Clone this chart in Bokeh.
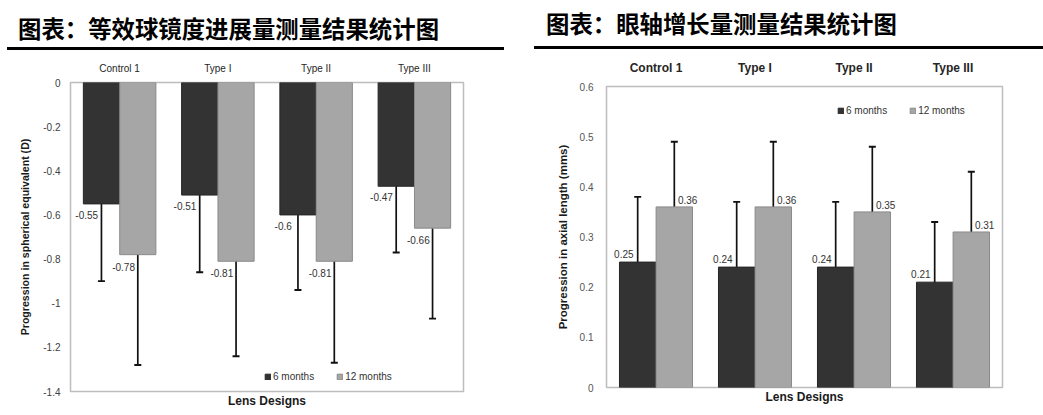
from bokeh.plotting import figure
from bokeh.models import (FactorRange, Range1d, ColumnDataSource, Whisker, TeeHead, FixedTicker,
                          Title, Legend, LegendItem, Div)
from bokeh.transform import dodge
from bokeh.layouts import row, column
from bokeh.embed import file_html
from bokeh.resources import INLINE
from bokeh.core.properties import value

# ---------------- data ----------------
categories = ["Control 1", "Type I", "Type II", "Type III"]
series_names = ["6 months", "12 months"]

# spherical equivalent progression (D)
se_6m = [-0.55, -0.51, -0.60, -0.47]
se_6m_err = [0.35, 0.35, 0.34, 0.30]
se_12m = [-0.78, -0.81, -0.81, -0.66]
se_12m_err = [0.50, 0.43, 0.46, 0.41]
se_ticks = [0, -0.2, -0.4, -0.6, -0.8, -1.0, -1.2, -1.4]
se_tick_labels = ["0", "-0.2", "-0.4", "-0.6", "-0.8", "-1", "-1.2", "-1.4"]

# axial length progression (mm)
al_6m = [0.25, 0.24, 0.24, 0.21]
al_6m_err = [0.13, 0.13, 0.13, 0.12]
al_12m = [0.36, 0.36, 0.35, 0.31]
al_12m_err = [0.13, 0.13, 0.13, 0.12]
al_ticks = [0, 0.1, 0.2, 0.3, 0.4, 0.5, 0.6]
al_tick_labels = ["0", "0.1", "0.2", "0.3", "0.4", "0.5", "0.6"]

left_title = "图表：等效球镜度进展量测量结果统计图"
right_title = "图表：眼轴增长量测量结果统计图"
left_ylabel = "Progression in spherical equivalent (D)"
right_ylabel = "Progression in axial length (mms)"
xlabel = "Lens Designs"

FONT = "Liberation Sans"
DARK = "#333333"
LIGHT = "#a6a6a6"
OFF = 0.185
BW = 0.368


def fmt(v):
    return f"{v:g}"


def make_chart(v6, e6, v12, e12, ticks, tick_labels, yr, ylabel, width, height,
               bl, br, bt, bb, cat_size, cat_style, cat_standoff, tick_color, tick_standoff,
               ylabel_size, ylabel_standoff, lab6, lab12, legend_loc):
    src = ColumnDataSource(dict(
        cat=categories,
        v6=v6, lo6=[a - b for a, b in zip(v6, e6)], hi6=[a + b for a, b in zip(v6, e6)],
        v12=v12, lo12=[a - b for a, b in zip(v12, e12)], hi12=[a + b for a, b in zip(v12, e12)],
        t6=[fmt(v) for v in v6], t12=[fmt(v) for v in v12],
    ))
    p = figure(x_range=FactorRange(*categories), y_range=Range1d(*yr),
               width=width, height=height, output_backend="svg", toolbar_location=None,
               x_axis_location="above", min_border_left=bl, min_border_right=br,
               min_border_top=bt, min_border_bottom=bb)
    p.xgrid.grid_line_color = None
    p.ygrid.grid_line_color = None
    p.outline_line_color = "#bdbdbd"
    p.outline_line_width = 1.5
    p.background_fill_color = "white"
    p.border_fill_color = "white"

    r6 = p.vbar(x=dodge("cat", -OFF, range=p.x_range), top="v6", bottom=0, width=BW,
                source=src, fill_color=DARK, line_color="#262626", line_width=1)
    r12 = p.vbar(x=dodge("cat", OFF, range=p.x_range), top="v12", bottom=0, width=BW,
                 source=src, fill_color=LIGHT, line_color="#8a8a8a", line_width=1)

    for off, lo, hi in ((-OFF, "lo6", "hi6"), (OFF, "lo12", "hi12")):
        w = Whisker(source=src, base=dodge("cat", off, range=p.x_range), upper=hi, lower=lo,
                    dimension="height", line_color="#111111", line_width=1.7,
                    upper_head=TeeHead(size=7, line_width=1.9, line_color="#111111"),
                    lower_head=TeeHead(size=7, line_width=1.9, line_color="#111111"))
        p.add_layout(w)

    p.text(x=dodge("cat", lab6[0], range=p.x_range), y="v6", text="t6", source=src,
           y_offset=lab6[1], text_align="center", text_baseline="middle",
           text_font=value(FONT), text_font_size="10px", text_color="#333333")
    p.text(x=dodge("cat", lab12[0], range=p.x_range), y="v12", text="t12", source=src,
           y_offset=lab12[1], text_align="center", text_baseline="middle",
           text_font=value(FONT), text_font_size="10px", text_color="#333333")

    xa = p.xaxis[0]
    xa.axis_line_color = None
    xa.major_tick_line_color = None
    xa.minor_tick_line_color = None
    xa.major_tick_out = 0
    xa.major_tick_in = 0
    xa.major_label_standoff = cat_standoff
    xa.major_label_text_font = FONT
    xa.major_label_text_font_size = cat_size
    xa.major_label_text_font_style = cat_style
    xa.major_label_text_color = "#262626"

    ya = p.yaxis[0]
    ya.ticker = FixedTicker(ticks=ticks)
    ya.major_label_overrides = {t: l for t, l in zip(ticks, tick_labels)}
    ya.axis_line_color = None
    ya.major_tick_line_color = None
    ya.minor_tick_line_color = None
    ya.major_tick_out = 0
    ya.major_tick_in = 0
    ya.major_label_standoff = tick_standoff
    ya.major_label_text_font = FONT
    ya.major_label_text_font_size = "10px"
    ya.major_label_text_color = tick_color
    ya.axis_label = ylabel
    ya.axis_label_text_font = FONT
    ya.axis_label_text_font_size = ylabel_size
    ya.axis_label_text_font_style = "bold"
    ya.axis_label_text_color = "#1a1a1a"
    ya.axis_label_standoff = ylabel_standoff

    p.add_layout(Title(text=xlabel, align="center", text_font=FONT, text_font_size="12px",
                       text_font_style="bold", text_color="#1a1a1a", standoff=0, offset=0), "below")

    legend = Legend(items=[LegendItem(label=series_names[0], renderers=[r6]),
                           LegendItem(label=series_names[1], renderers=[r12])],
                    location=legend_loc, orientation="horizontal",
                    glyph_width=7, glyph_height=7, label_standoff=2, spacing=22,
                    padding=0, margin=0, border_line_color=None, background_fill_alpha=0,
                    label_text_font=FONT, label_text_font_size="10px", label_height=10,
                    label_text_color="#333333")
    p.add_layout(legend)
    return p


def title_div(text, width, height, tx, ty, ux, uy, uw):
    html = (
        f'<div style="position:relative;width:{width}px;height:{height}px;">'
        f'<div style="position:absolute;left:{tx}px;top:{ty}px;white-space:nowrap;'
        f"font-family:'Noto Sans CJK SC';font-weight:bold;font-size:23.4px;line-height:28px;color:#000;\">{text}</div>"
        f'<div style="position:absolute;left:{ux}px;top:{uy}px;width:{uw}px;height:3px;background:#000;"></div>'
        f'</div>'
    )
    return Div(text=html, width=width, height=height, margin=(0, 0, 0, 0))


left = make_chart(se_6m, se_6m_err, se_12m, se_12m_err, se_ticks, se_tick_labels, (-1.4, 0),
                  left_ylabel, 528, 363, 70, 65, 30, 24, "10px", "normal", 9, "#404040", 10,
                  "10.6px", 9, (-0.335, 11), (0.04, 12), (194, 9))
right = make_chart(al_6m, al_6m_err, al_12m, al_12m_err, al_ticks, al_tick_labels, (0, 0.6),
                   right_ylabel, 515, 363, 78, 41, 34, 28, "12px", "bold", 12, "#555555", 13,
                   "11.5px", 8, (-0.325, -8), (0.32, -7), (231, 271))

ldiv = title_div(left_title, 528, 52, 18, 14, 7, 47, 497)
rdiv = title_div(right_title, 515, 52, 18, 9, 6, 46, 509)

layout = row(column(ldiv, left), column(rdiv, right))
open("out.html", "w").write(file_html(layout, INLINE))
